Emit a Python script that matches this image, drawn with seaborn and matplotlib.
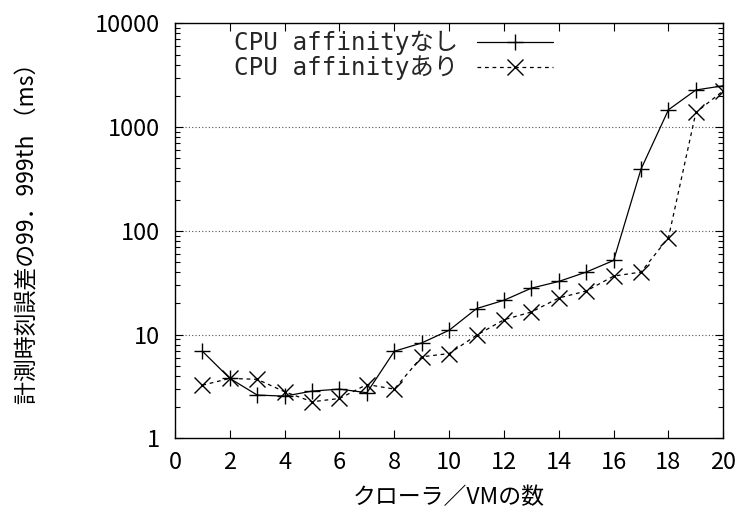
import matplotlib
matplotlib.use("Agg")
import matplotlib.pyplot as plt
import matplotlib.ticker as mticker
import seaborn as sns
import pandas as pd

x_vals = list(range(1, 21))
without_affinity = [6.9, 3.78, 2.61, 2.55, 2.85, 2.98, 2.75, 6.9, 8.3, 11.0,
                    17.8, 21.4, 28.0, 32.5, 40.0, 51.8, 394, 1468, 2276, 2500]
with_affinity = [3.25, 3.78, 3.7, 2.81, 2.25, 2.42, 3.3, 2.98, 6.1, 6.56,
                 9.85, 13.9, 16.5, 22.5, 26.3, 36.6, 40.0, 86, 1383, 2240]
series_names = ["CPU affinityなし", "CPU affinityあり"]
x_ticks = list(range(0, 21, 2))
y_ticks = [1, 10, 100, 1000, 10000]
x_label = "クローラ／VMの数"
y_label = "計測時刻誤差の99．999th （ms）"

df = pd.DataFrame({
    "x": x_vals * 2,
    "y": without_affinity + with_affinity,
    "series": [series_names[0]] * len(x_vals) + [series_names[1]] * len(x_vals),
})

sns.set_theme(style="ticks")
plt.rcParams["font.family"] = ["Noto Sans CJK JP", "DejaVu Sans"]

fig = plt.figure(figsize=(7.44, 5.22), dpi=100)
ax = fig.add_axes([175 / 744, 1 - 438.3 / 522, (723.3 - 175) / 744, (438.3 - 23.3) / 522])

sns.lineplot(
    data=df, x="x", y="y", style="series", ax=ax,
    markers={series_names[0]: "+", series_names[1]: "x"},
    dashes={series_names[0]: "", series_names[1]: (3, 3)},
    color="black", linewidth=0.9, markersize=11, markeredgewidth=1.0,
    markeredgecolor="black", legend=True,
)

ax.set_yscale("log")
ax.set_xlim(0, 20)
ax.set_ylim(1, 10000)
ax.set_xticks(x_ticks)
ax.set_xticklabels([str(t) for t in x_ticks])
ax.set_yticks(y_ticks)
ax.set_yticklabels([str(t) for t in y_ticks])
ax.yaxis.set_minor_locator(mticker.LogLocator(base=10, subs=range(2, 10)))
ax.yaxis.set_minor_formatter(mticker.NullFormatter())

for gy in y_ticks[1:-1]:
    ax.axhline(gy, color="#555555", linestyle=(0, (1, 2)), linewidth=0.8, zorder=0)

ax.tick_params(axis="both", which="major", direction="in", length=6, width=0.8,
               top=True, right=True, labelsize=17, color="black", labelcolor="black")
ax.tick_params(axis="x", pad=9)
ax.tick_params(axis="y", pad=11)
ax.tick_params(axis="y", which="minor", direction="in", length=3.5, width=0.8,
               left=True, right=True, color="black")
for s in ax.spines.values():
    s.set_color("black")
    s.set_linewidth(1.0)

ax.set_xlabel(x_label, fontsize=16.5, labelpad=9, color="black")
ax.set_ylabel(y_label, fontsize=16.5, color="black")
ax.yaxis.set_label_coords((39 - 175) / 548.3, (438.3 - 228) / 415)

handles, labels = ax.get_legend_handles_labels()
leg = ax.legend(handles, labels, loc="upper left", bbox_to_anchor=(234 / 744, 1 - 31 / 522),
                bbox_transform=fig.transFigure, frameon=False, markerfirst=False,
                prop={"family": ["DejaVu Sans Mono", "Noto Sans CJK JP"], "size": 17.5},
                handlelength=3.1, labelspacing=0.0, handletextpad=0.8,
                borderaxespad=0, borderpad=0)

fig.savefig("out.png", dpi=100)
